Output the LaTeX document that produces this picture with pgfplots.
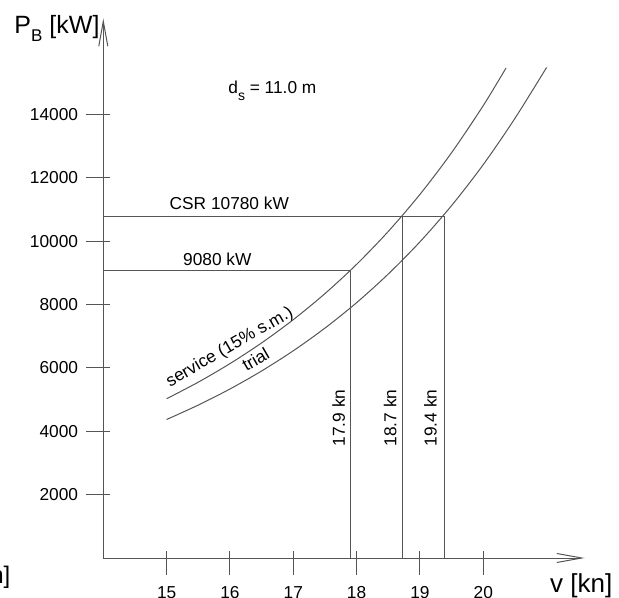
\documentclass[border=0pt]{standalone}
\usepackage{pgfplots}
\pgfplotsset{compat=1.18}
\usepackage{fontspec}
\setmainfont{Liberation Sans}
\usetikzlibrary{arrows.meta}
\definecolor{ln}{RGB}{85,85,85}
\newcommand\fs{\fontsize{17.3bp}{20bp}\selectfont}
\newcommand\fl{\fontsize{26bp}{30bp}\selectfont}
\begin{document}
\begin{tikzpicture}
\begin{axis}[
  at={(0,0)}, anchor=south west,
  scale only axis, width=481.3bp, height=539.6bp,
  xmin=14, xmax=21.6, ymin=0, ymax=17040,
  axis lines=left,
  axis line style={ln, line width=1bp, -{Straight Barb[length=25bp,width=9bp]}},
  xtick={15,...,20}, ytick={2000,4000,...,14000},
  tick align=center,
  major tick length=24bp,
  every tick/.style={ln, line width=1bp},
  xtick style={yshift=-5bp},
  ytick style={xshift=-5.5bp},
  ticklabel style={font=\fs, inner sep=0pt, text=black},
  /pgf/number format/assume math mode=true,
  /pgf/number format/1000 sep={},
  scaled y ticks=false, scaled x ticks=false,
  xticklabel style={anchor=north, yshift=-16bp},
  yticklabel style={anchor=east, xshift=-13bp},
  clip=false,
]
% service curve (15% sea margin)
\addplot[ln, line width=1bp, smooth] coordinates {
 (15,5030) (15.5,5553) (16,6138) (16.5,6792) (17,7526) (17.5,8349)
 (18,9273) (18.5,10313) (19,11482) (19.5,12800) (20,14287) (20.36,15475)};
% trial curve
\addplot[ln, line width=1bp, smooth] coordinates {
 (15,4374) (15.5,4829) (16,5337) (16.5,5906) (17,6544) (17.5,7260)
 (18,8063) (18.5,8968) (19,9984) (19.5,11130) (20,12423) (20.5,13883) (21,15490)};
% power levels
\addplot[ln, line width=1bp] coordinates {(14,9080) (17.9,9080) (17.9,0)};
\addplot[ln, line width=1bp] coordinates {(14,10780) (19.38,10780) (19.38,0)};
\addplot[ln, line width=1bp] coordinates {(18.72,10780) (18.72,0)};

\node[anchor=base, font=\fs] at (axis cs:15.99,11006) {CSR 10780 kW};
\node[anchor=base, font=\fs] at (axis cs:15.80,9221) {9080 kW};
\node[anchor=base, font=\fs] at (axis cs:16.67,14675) {d\raisebox{-7bp}{\fontsize{14bp}{14bp}\selectfont s} = 11.0 m};
\node[rotate=90, anchor=south, inner sep=5bp, font=\fs] at (axis cs:17.9,4421) {17.9 kn};
\node[rotate=90, anchor=south, inner sep=5.5bp, font=\fs] at (axis cs:18.72,4421) {18.7 kn};
\node[rotate=90, anchor=south, inner sep=7bp, font=\fs] at (axis cs:19.38,4421) {19.4 kn};
\node[rotate=30, font=\fs] at (axis cs:16.0,6648) {service (15\% s.m.)};
\node[rotate=30, font=\fs] at (axis cs:16.405,6275) {trial};
\end{axis}
\node[anchor=base west, inner sep=0pt, font=\fontsize{25bp}{30bp}\selectfont] at (-89bp,524.7bp)
  {P\raisebox{-8.4bp}{\fontsize{17bp}{17bp}\selectfont B} [kW]};
\node[anchor=base west, inner sep=0pt, font=\fl] at (446.7bp,-34bp) {v [kn]};
\node[anchor=base east, inner sep=0pt, font=\fontsize{24bp}{28bp}\selectfont] at (-92.8bp,-25.3bp) {v [kn]};
\pgfresetboundingbox
\useasboundingbox (-103.3bp,-40bp) rectangle (515.7bp,558bp);
\end{tikzpicture}
\end{document}
